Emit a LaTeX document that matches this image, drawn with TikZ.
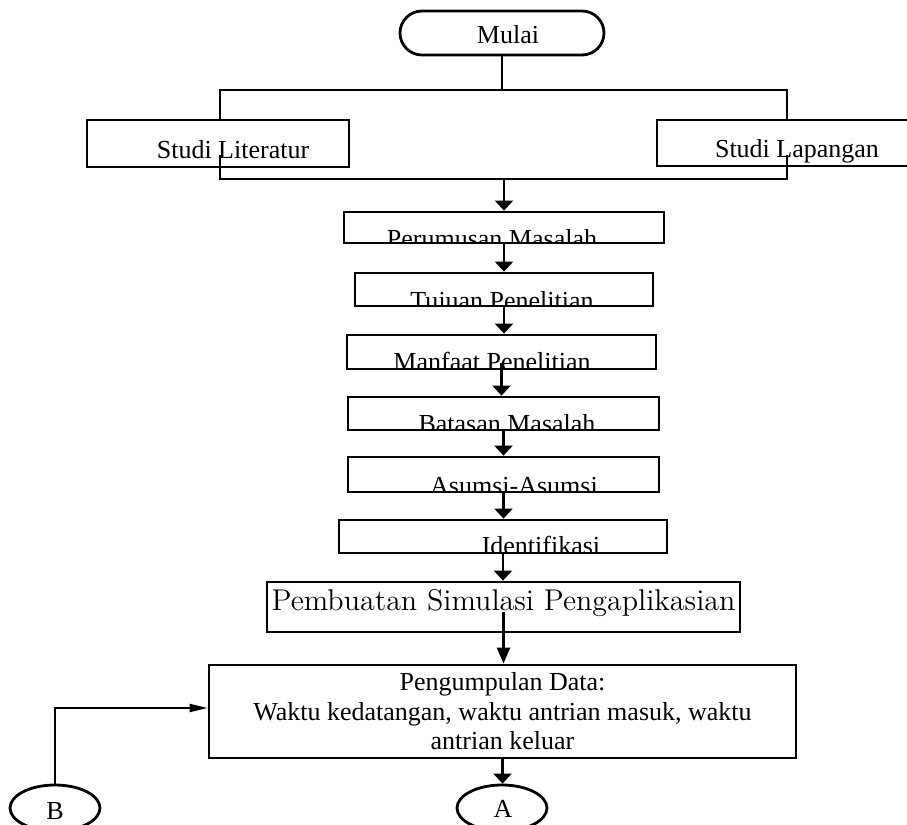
\documentclass[tikz,border=0pt]{standalone}
\usepackage{fontspec}
\newfontfamily\tnr{Liberation Serif}
\newfontfamily\lmdua{lmroman12-regular.otf}
\usetikzlibrary{arrows.meta,shapes.geometric,calc}
\tikzset{
  kotak/.style={draw, fill=white, line width=1.4pt, inner sep=0pt},
  isi/.style n args={3}{path picture={\node[anchor=base, inner sep=0pt, minimum size=0pt, draw=none, fill=none] at ($(path picture bounding box.south)+(#1,#2)$) {#3};}},
  garis/.style={line width=1.1pt},
  panah/.style={line width=1.1pt, -{Triangle[length=5pt,width=9pt]}},
  bulat/.style={draw, ellipse, fill=white, line width=1.4pt, inner sep=0pt, minimum width=45pt, minimum height=23pt},
}

\begin{document}
\begin{tikzpicture}[x=0.5pt, y=-0.5pt, font=\tnr\fontsize{13}{14.75}\selectfont]
\clip (0,0) rectangle (907,825);
\node[kotak, rounded corners=11pt, minimum width=102pt, minimum height=22pt, isi={6}{-12}{Mulai}] (mulai) at (502,33) {};
\coordinate (kiri) at (220,90);
\coordinate (kanan) at (787,90);
\coordinate (kiri2) at (220,179);
\coordinate (kanan2) at (787,179);
\draw[garis] (mulai.south) -- (mulai.south |- kiri);
\draw[garis] (kiri) rectangle (kanan2);
\node[kotak, minimum width=131pt, minimum height=23.5pt, isi={15}{-9}{Studi Literatur}] (literatur) at (218,143.5) {};
\node[kotak, minimum width=131pt, minimum height=23pt, isi={9}{-9}{Studi Lapangan}] (lapangan) at (788,143) {};
\draw[garis] (kiri2) -- ++(0,-24);
\draw[garis] (kanan2) -- ++(0,-24);

\node[kotak, minimum width=160pt, minimum height=15.5pt, isi={-12}{4}{Perumusan Masalah}] (perumusan) at (504,227.5) {};
\node[kotak, minimum width=149pt, minimum height=16.5pt, isi={-2}{3}{Tujuan Penelitian}] (tujuan) at (504,289.5) {};
\node[kotak, minimum width=154.5pt, minimum height=17pt, isi={-9.5}{1}{Manfaat Penelitian}] (manfaat) at (501.5,352) {};
\node[kotak, minimum width=155.5pt, minimum height=16.5pt, isi={3.5}{2}{Batasan Masalah}] (batasan) at (503.5,413.5) {};
\node[kotak, minimum width=155.5pt, minimum height=17.5pt, isi={10.5}{2}{Asumsi-Asumsi}] (asumsi) at (503.5,474.5) {};
\node[kotak, minimum width=164pt, minimum height=16.5pt, isi={38}{1}{Identifikasi}] (identifikasi) at (503,536.5) {};
\node[kotak, minimum width=236.5pt, minimum height=25pt, isi={0}{-22}{\lmdua\fontsize{15}{18}\selectfont Pembuatan Simulasi Pengaplikasian}] (pembuatan) at (503.5,607) {};
\node[kotak, minimum width=293.5pt, minimum height=46.5pt, align=center] (pengumpulan) at (502.5,711.5) {Pengumpulan Data:\\ Waktu kedatangan, waktu antrian masuk, waktu\\ antrian keluar};
\node[bulat, isi={1}{-14}{A}] (A) at (502,808) {};
\node[bulat, isi={0}{-12}{B}] (B) at (55,808) {};

\draw[panah] (perumusan.north |- kiri2) -- (perumusan.north);
\draw[panah] (perumusan.south) -- (perumusan.south |- tujuan.north);
\draw[panah] (tujuan.south) -- (tujuan.south |- manfaat.north);
\draw[panah] ([yshift=3.5pt]manfaat.south) -- (manfaat.south |- batasan.north);
\draw[panah] (batasan.south) -- (batasan.south |- asumsi.north);
\draw[panah] (asumsi.south) -- (asumsi.south |- identifikasi.north);
\draw[panah] (identifikasi.south) -- (identifikasi.south |- pembuatan.north);
\draw[garis, -{Triangle[length=8pt,width=6.5pt]}] ([yshift=-2.5pt]pembuatan.center) -- (pembuatan.center |- pengumpulan.north);
\draw[panah] (pengumpulan.south) -- (pengumpulan.south |- A.north);
\draw[garis, -{Triangle[length=9pt,width=4pt]}] (B.north) |- ([yshift=1.75pt]pengumpulan.west);
\end{tikzpicture}
\end{document}
